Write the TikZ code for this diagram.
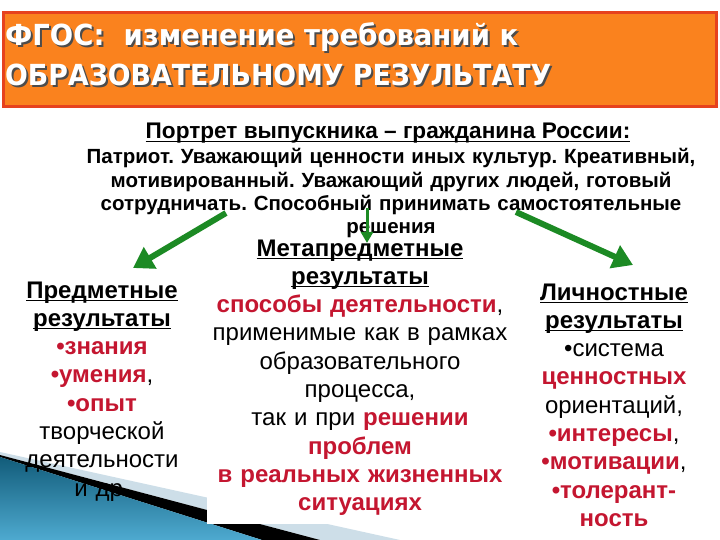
\documentclass[tikz,border=0pt]{standalone}
\usepackage{fontspec}
\setmainfont{Liberation Sans}
\newfontfamily\titlefont{DejaVu Sans}
\usepackage{graphicx}
\usetikzlibrary{arrows.meta}
\frenchspacing
\definecolor{ttlorange}{RGB}{250,130,30}
\definecolor{ttlborder}{RGB}{230,66,30}
\definecolor{txtred}{RGB}{196,22,48}
\definecolor{arrgreen}{RGB}{28,138,36}
\definecolor{bandlight}{RGB}{205,222,232}
\definecolor{bluedark}{RGB}{18,92,122}
\definecolor{bluelight}{RGB}{78,170,208}
\newsavebox{\ulbox}
\newcommand{\uln}[1]{\leavevmode\sbox{\ulbox}{#1}\rlap{\rule[-3pt]{\wd\ulbox}{1.4pt}}\usebox{\ulbox}}
\newcommand{\rd}[1]{\textcolor{txtred}{\textbf{#1}}}
\newcommand{\hd}[1]{\uln{\textbf{#1}}}
\begin{document}
\begin{tikzpicture}[x=1pt,y=-1pt,
  titlebox/.style={draw=ttlborder, line width=3pt, fill=ttlorange, minimum width=713pt, minimum height=94pt, inner sep=0pt},
  titletext/.style={anchor=base west, inner sep=0pt, text=white, font=\titlefont\bfseries\fontsize{29}{34}\selectfont},
  titleshadow/.style={titletext, text=black!70},
  subtitle/.style={anchor=base, inner sep=0pt, font=\bfseries\fontsize{22.6}{26}\selectfont},
  para/.style={anchor=base, inner sep=0pt, align=center, text width=640pt, font=\bfseries\fontsize{20.5}{23.3}\selectfont},
  coltext/.style={anchor=base, inner sep=0pt, align=center, text width=180pt, font=\fontsize{24}{28.3}\selectfont},
  midbox/.style={coltext, fill=white, inner xsep=4pt, inner ysep=8pt, text width=298pt},
  sidearrow/.style={draw=arrgreen, line width=6pt, -{Triangle[length=20pt,width=24pt]}},
  midarrow/.style={draw=arrgreen, line width=3pt, -{Triangle[length=11pt,width=12pt]}}
]
\useasboundingbox (0,0) rectangle (720,540);
\fill[white] (0,0) rectangle (720,540);

% template decoration, bottom left
\fill[bandlight] (0,452) -- (400,540) -- (320,540) -- (0,455) -- cycle;
\fill[black] (0,455) -- (320,540) -- (262,540) -- (0,457) -- cycle;
\shade[top color=bluedark, bottom color=bluelight] (0,457) -- (262,540) -- (0,540) -- cycle;

% title
\node[titlebox] (title) at (360,59.5) {};
\node[titleshadow] (t1s) at (7,47.5) {\resizebox{513pt}{\height}{ФГОС:\ \ изменение требований к}};
\node[titletext] (t1) at (5,46) {\resizebox{513pt}{\height}{ФГОС:\ \ изменение требований к}};
\node[titleshadow] (t2s) at (7,87.5) {\resizebox{546pt}{\height}{ОБРАЗОВАТЕЛЬНОМУ РЕЗУЛЬТАТУ}};
\node[titletext] (t2) at (5,86) {\resizebox{546pt}{\height}{ОБРАЗОВАТЕЛЬНОМУ РЕЗУЛЬТАТУ}};

% middle column (white box)
\node[midbox] (mid) at (360,256) {\hd{Метапредметные}\\ \hd{результаты}\\
  \rd{способы деятельности},\\ применимые как в рамках\\ образовательного\\ процесса,\\
  так и при \rd{решении}\\ \rd{проблем}\\ \rd{в реальных жизненных}\\ \rd{ситуациях}};

% subtitle and portrait
\node[subtitle] (sub) at (388,139) {\uln{Портрет выпускника – гражданина России:}};
\node[para] (por) at (391,164) {Патриот. Уважающий ценности иных культур. Креативный,\\
  мотивированный. Уважающий других людей, готовый\\
  сотрудничать. Способный принимать самостоятельные\\ решения};

% side columns
\node[coltext] (left) at (102,298) {\hd{Предметные}\\ \hd{результаты}\\ \rd{•знания}\\ \rd{•умения},\\
  \rd{•опыт}\\ творческой\\ деятельности\\ и др.};
\node[coltext] (right) at (614,300) {\hd{Личностные}\\ \hd{результаты}\\ •система\\ \rd{ценностных}\\
  ориентаций,\\ \rd{•интересы},\\ \rd{•мотивации},\\ \rd{•толерант-}\\ \rd{ность}};

% arrows
\coordinate (la) at (226,213);
\coordinate (lb) at (133,268);
\coordinate (ma) at (367,208);
\coordinate (mb) at (367,243);
\coordinate (ra) at (516,212);
\coordinate (rb) at (633,265);
\draw[sidearrow] (la) -- (lb);
\draw[midarrow] (ma) -- (mb);
\draw[sidearrow] (ra) -- (rb);
\end{tikzpicture}
\end{document}
